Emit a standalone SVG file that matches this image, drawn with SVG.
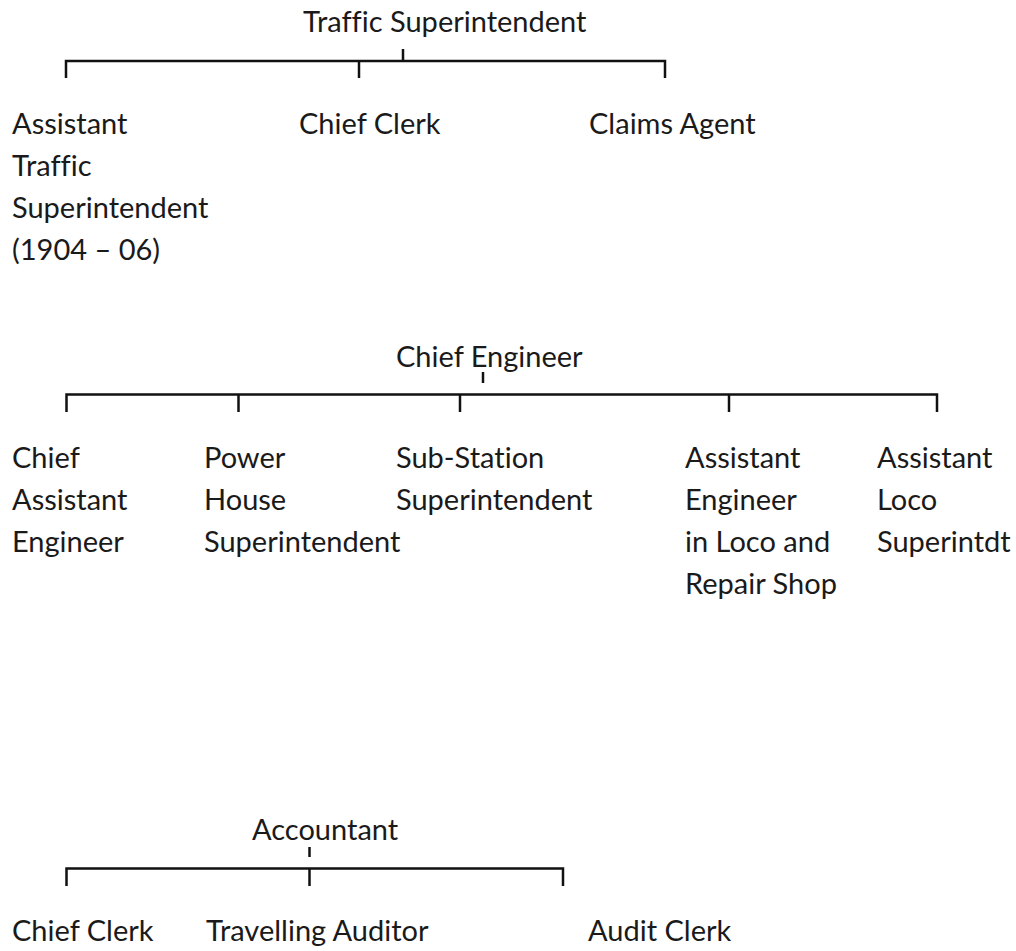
<svg xmlns="http://www.w3.org/2000/svg" width="1016" height="951" viewBox="0 0 1016 951">
<style>
text{font-family:Lato,"Open Sans","Liberation Sans",sans-serif;font-size:29px;fill:#1a1a1a;font-variant-ligatures:none}
.c line{stroke:#111;stroke-width:2.5;fill:none;stroke-linecap:butt}
.c path{stroke:#111;stroke-width:2.5;fill:none}
</style>
<rect width="1016" height="951" fill="#fff"/>
<g class="c" id="connectors">
<path d="M66,78V61H665V78"/>
<line x1="359" y1="61" x2="359" y2="78"/>
<line x1="403" y1="49" x2="403" y2="61"/>
<path d="M66.5,412V394.5H937V412"/>
<line x1="238.5" y1="394.5" x2="238.5" y2="412"/>
<line x1="460" y1="394.5" x2="460" y2="412"/>
<line x1="729" y1="394.5" x2="729" y2="412"/>
<line x1="483" y1="372" x2="483" y2="383"/>
<path d="M66.5,886V868.5H563V886"/>
<line x1="309.5" y1="868.5" x2="309.5" y2="886"/>
<line x1="309.5" y1="847" x2="309.5" y2="857"/>
</g>
<g id="traffic-superintendent"><text x="303" y="32">Traffic Superintendent</text></g>
<g id="assistant-traffic-superintendent"><text x="12" y="134">Assistant</text><text x="12" y="176">Traffic</text><text x="12" y="218">Superintendent</text><text x="12" y="260">(1904 – 06)</text></g>
<g id="chief-clerk-traffic"><text x="299" y="134">Chief Clerk</text></g>
<g id="claims-agent"><text x="589" y="134">Claims Agent</text></g>
<g id="chief-engineer"><text x="396" y="367">Chief Engineer</text></g>
<g id="chief-assistant-engineer"><text x="12" y="468">Chief</text><text x="12" y="510">Assistant</text><text x="12" y="552">Engineer</text></g>
<g id="power-house-superintendent"><text x="204" y="468">Power</text><text x="204" y="510">House</text><text x="204" y="552">Superintendent</text></g>
<g id="sub-station-superintendent"><text x="396" y="468">Sub-Station</text><text x="396" y="510">Superintendent</text></g>
<g id="assistant-engineer-loco"><text x="685" y="468">Assistant</text><text x="685" y="510">Engineer</text><text x="685" y="552">in Loco and</text><text x="685" y="594">Repair Shop</text></g>
<g id="assistant-loco-superintendent"><text x="877" y="468">Assistant</text><text x="877" y="510">Loco</text><text x="877" y="552">Superintdt</text></g>
<g id="accountant"><text x="252" y="840">Accountant</text></g>
<g id="chief-clerk-accounts"><text x="12" y="941">Chief Clerk</text></g>
<g id="travelling-auditor"><text x="206" y="941">Travelling Auditor</text></g>
<g id="audit-clerk"><text x="588" y="941">Audit Clerk</text></g>
</svg>
